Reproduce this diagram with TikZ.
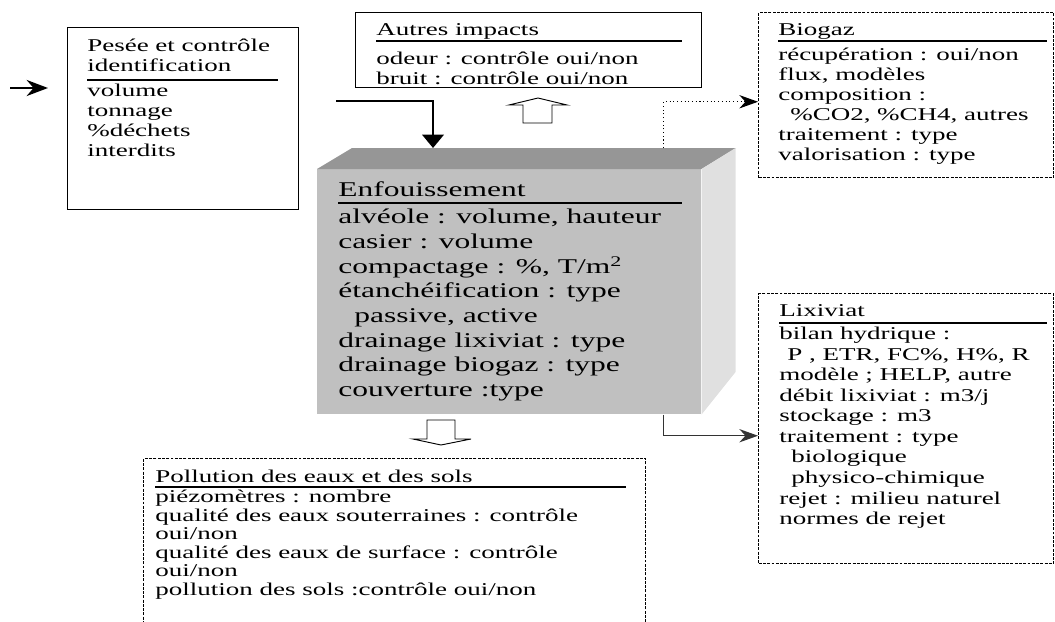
\documentclass[tikz,border=0pt]{standalone}
\usepackage{fontspec}
\setmainfont{Liberation Serif}[FakeStretch=1.5]
\usetikzlibrary{arrows.meta}

\definecolor{facegray}{RGB}{192,192,192}
\definecolor{topgray}{RGB}{150,150,150}
\definecolor{sidegray}{RGB}{224,224,224}

\tikzset{
	boxtxt/.style={anchor=north west, inner sep=0pt, align=left, font=\fontsize{13.5}{15}\selectfont},
	bigtxt/.style={boxtxt, font=\fontsize{15.75}{18.5}\selectfont},
	plainbox/.style={draw, line width=0.8pt, anchor=north west, inner sep=0pt},
	dotbox/.style={draw, line width=1.1pt, dash pattern=on 2.2pt off 1pt, anchor=north west, inner sep=0pt},
	headrule/.style={line width=1.5pt},
	hollow/.style={draw, fill=white, line width=0.7pt},
	tip/.style={-{Stealth[length=14pt, width=10pt]}}
}

\begin{document}
\begin{tikzpicture}[x=0.75pt, y=-0.75pt]
			\useasboundingbox (0,0) rectangle (1055,621);
			\clip (0,0) rectangle (1055,621);
			% Pesee
			\node[plainbox, minimum width=173.25pt, minimum height=136.5pt] (pesee) at (67,27) {};
			\node[boxtxt] (pesee-h) at (87,39) {Pesée et contrôle\\identification};
			\draw[headrule] (87,80) -- (278,80);
			\node[boxtxt] (pesee-t) at (87,84) {volume\\tonnage\\\%déchets\\interdits};
			\coordinate (feed-a) at (10,88);
			\coordinate (feed-b) at (48,88);
			\draw[line width=2pt, -{Stealth[length=16pt, width=12pt]}] (feed-a) -- (feed-b);
			% Autres impacts
			\node[plainbox, minimum width=259.5pt, minimum height=56.25pt] (autres) at (355,12) {};
			\node[boxtxt] (autres-h) at (376,23) {Autres impacts};
			\draw[headrule] (376,41) -- (682,41);
			\node[boxtxt] (autres-t) at (376,52) {odeur : contrôle oui/non\\bruit : contrôle oui/non};
			\draw[hollow] (523,123) -- (523,105) -- (509,105) -- (538,98) -- (567,105) -- (552,105) -- (552,123) -- cycle;
			% Enfouissement
			\node[fill=facegray, anchor=north west, inner sep=0pt, minimum width=288pt, minimum height=183.75pt] (enf) at (317,169) {};
			\fill[topgray] (enf.north west) -- ++(35,-21) -- ++(384,0) -- (enf.north east) -- cycle;
			\fill[sidegray] (enf.north east) -- ++(34,-21) -- ++(0,224) -- (enf.south east) -- cycle;
			\node[bigtxt] (enf-h) at (338,181) {Enfouissement};
			\draw[headrule] (338,203) -- (682,203);
			\node[bigtxt] (enf-t) at (338,209) {alvéole : volume, hauteur\\casier : volume\\compactage : \%, T/m\textsuperscript{2}\\étanchéification : type\\\hspace*{12pt}passive, active\\drainage lixiviat : type\\drainage biogaz : type\\couverture :type};
			\coordinate (drop) at (336,101);
			\draw[line width=2pt, -{Triangle[length=10pt, width=16pt]}] (drop) -| ([shift={(87pt,15.75pt)}]enf.north west);
			\draw[hollow] (427,420) -- (455,420) -- (455,439) -- (471,439) -- (441,445) -- (413,439) -- (427,439) -- cycle;
			% Biogaz
			\node[dotbox, minimum width=221.25pt, minimum height=123.75pt] (biogaz) at (758,12) {};
			\node[boxtxt] (biogaz-h) at (778,23) {Biogaz};
			\draw[headrule] (778,41) -- (1047,41);
			\node[boxtxt] (biogaz-t) at (778,48) {récupération : oui/non\\flux, modèles\\composition :\\\hspace*{9pt}\%CO2, \%CH4, autres\\traitement : type\\valorisation : type};
			\draw[line width=0.8pt, dotted, tip] ([shift={(-28.5pt,15.75pt)}]enf.north east) |- ([yshift=-4.9pt]biogaz.west);
			% Lixiviat
			\node[dotbox, minimum width=221.25pt, minimum height=202.5pt] (lix) at (758,293) {};
			\node[boxtxt] (lix-h) at (779,304) {Lixiviat};
			\draw[headrule] (779,323) -- (1047,323);
			\node[boxtxt, font=\fontsize{13.5}{15.4}\selectfont] (lix-t) at (779,327) {bilan hydrique :\\\hspace*{6pt}P , ETR, FC\%, H\%, R\\modèle ; HELP, autre\\débit lixiviat : m3/j\\stockage : m3\\traitement : type\\\hspace*{9pt}biologique\\\hspace*{9pt}physico-chimique\\rejet : milieu naturel\\normes de rejet};
			\draw[line width=1pt, black!80, tip] ([xshift=-28.5pt]enf.south east) |- ([yshift=-5.25pt]lix.west);
			% Pollution
			\node[dotbox, minimum width=376.5pt, minimum height=136.5pt] (pollu) at (143,458) {};
			\node[boxtxt] (pollu-h) at (155,470) {Pollution des eaux et des sols};
			\draw[headrule] (155,487) -- (626,487);
			\node[boxtxt, font=\fontsize{13.5}{13.9}\selectfont] (pollu-t) at (155,490) {piézomètres : nombre\\qualité des eaux souterraines : contrôle\\oui/non\\qualité des eaux de surface : contrôle\\oui/non\\pollution des sols :contrôle oui/non};
		\end{tikzpicture}
\end{document}
